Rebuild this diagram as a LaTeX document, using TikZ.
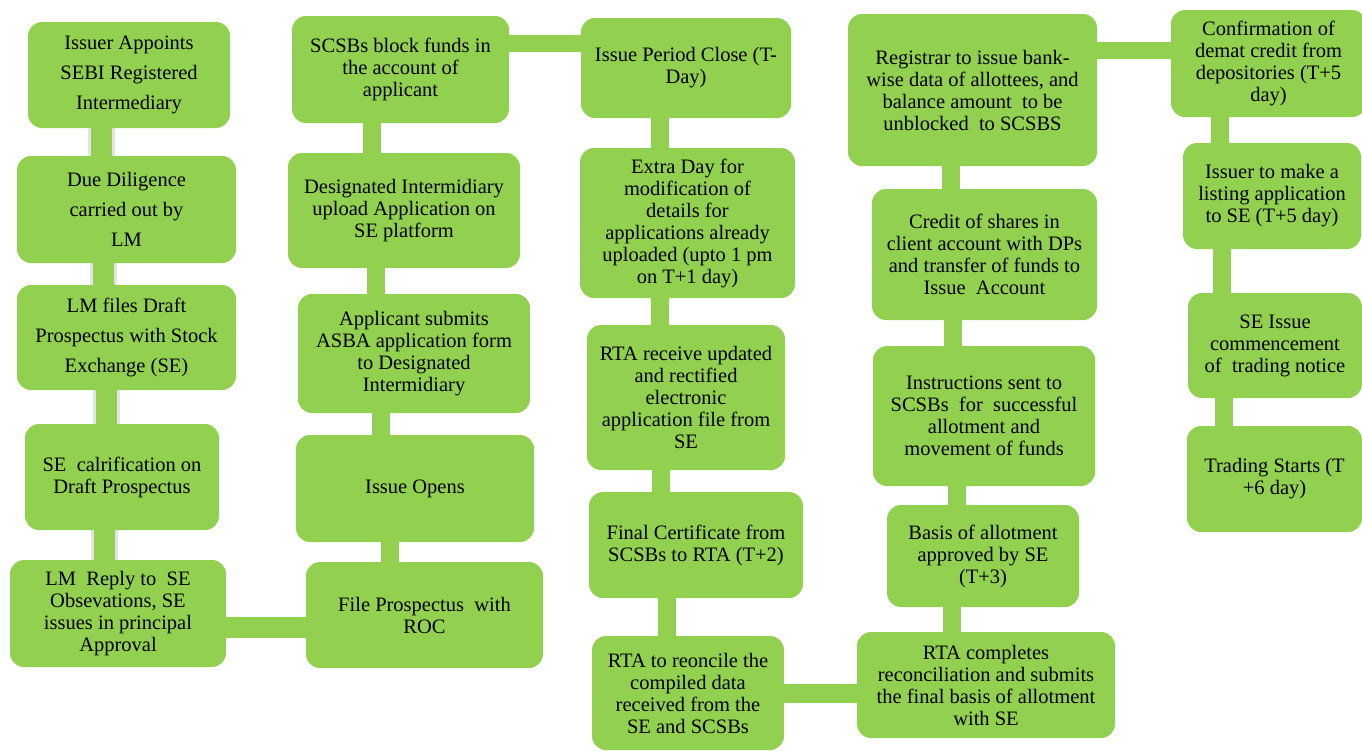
\documentclass[tikz,border=0pt]{standalone}
\usepackage{fontspec}
\setmainfont{Liberation Serif}
\usetikzlibrary{backgrounds}

\definecolor{leaf}{HTML}{92D050}

\begin{document}
\begin{tikzpicture}[
        x=1pt, y=-1pt,
        box/.style={
            fill=leaf,
            rounded corners=14pt,
            align=center,
            inner sep=0pt,
            font=\rmfamily\fontsize{20.5}{22}\selectfont,
        },
        widelines/.style={
            font=\rmfamily\fontsize{20.5}{30}\selectfont,
        },
        bar/.style={
            draw=leaf,
            line width=18pt,
        },
        bar-shadow/.style={
            draw=black!30,
            line width=27pt,
            opacity=0.35,
        },
    ]
    \useasboundingbox (0,0) rectangle (1362,750);

    % Column one.
    \node[box, widelines, minimum width=202, minimum height=106] (n1) at (129,75)
        {Issuer Appoints\\SEBI Registered\\Intermediary};
    \node[box, widelines, minimum width=219, minimum height=107] (n2) at (126.5,209.5)
        {Due Diligence\\carried out by\\LM};
    \node[box, widelines, minimum width=219, minimum height=105] (n3) at (126.5,337.5)
        {LM files Draft\\Prospectus with Stock\\Exchange (SE)};
    \node[box, minimum width=194, minimum height=106] (n4) at (122,477)
        {SE\ \ calrification on\\Draft Prospectus};
    \node[box, minimum width=216, minimum height=107] (n5) at (118,613.5)
        {LM\ \ Reply to\ \ SE\\Obsevations, SE\\issues in principal\\Approval};

    % Column two.
    \node[box, minimum width=237, minimum height=106] (n6) at (424.5,615)
        {File Prospectus\ \ with\\ROC};
    \node[box, minimum width=238, minimum height=107] (n7) at (415,488.5)
        {Issue Opens};
    \node[box, minimum width=232, minimum height=119] (n8) at (414,353.5)
        {Applicant submits\\ASBA application form\\to Designated\\Intermidiary};
    \node[box, minimum width=232, minimum height=115] (n9) at (404,210.5)
        {Designated Intermidiary\\upload Application on\\SE platform};
    \node[box, minimum width=217, minimum height=107] (n10) at (400.5,69.5)
        {SCSBs block funds in\\the account of\\applicant};

    % Column three.
    \node[box, minimum width=210, minimum height=100] (n11) at (686,68)
        {Issue Period Close (T-\\Day)};
    \node[box, minimum width=215, minimum height=150] (n12) at (687.5,223)
        {Extra Day for\\modification of\\details for\\applications already\\uploaded (upto 1 pm\\on T+1 day)};
    \node[box, minimum width=198, minimum height=145] (n13) at (686,397.5)
        {RTA receive updated\\and rectified\\electronic\\application file from\\SE};
    \node[box, minimum width=214, minimum height=106] (n14) at (696,545)
        {Final Certificate from\\SCSBs to RTA (T+2)};
    \node[box, minimum width=192, minimum height=114] (n15) at (688,693)
        {RTA to reoncile the\\compiled data\\received from the\\SE and SCSBs};

    % Column four.
    \node[box, minimum width=258, minimum height=106] (n16) at (986,685)
        {RTA completes\\reconciliation and submits\\the final basis of allotment\\with SE};
    \node[box, minimum width=192, minimum height=102] (n17) at (983,556)
        {Basis of allotment\\approved by SE\\(T+3)};
    \node[box, minimum width=222, minimum height=140] (n18) at (984,416)
        {Instructions sent to\\SCSBs\ \ for\ \ successful\\allotment and\\movement of funds};
    \node[box, minimum width=225, minimum height=131] (n19) at (984.5,254.5)
        {Credit of shares in\\client account with DPs\\and transfer of funds to\\Issue\ \ Account};
    \node[box, minimum width=249, minimum height=152] (n20) at (972.5,90)
        {Registrar to issue bank-\\wise data of allottees, and\\balance amount\ \ to be\\unblocked\ \ to SCSBS};

    % Column five.
    \node[box, minimum width=195, minimum height=107] (n21) at (1268.5,63.5)
        {Confirmation of\\demat credit from\\depositories (T+5\\day)};
    \node[box, minimum width=178, minimum height=106] (n22) at (1272,196)
        {Issuer to make a\\listing application\\to SE (T+5 day)};
    \node[box, minimum width=174, minimum height=105] (n23) at (1275,345.5)
        {SE Issue\\commencement\\of\ \ trading notice};
    \node[box, minimum width=175, minimum height=106] (n24) at (1274.5,479)
        {Trading Starts (T\\+6 day)};

    \begin{scope}[on background layer]
        % Shadowed bars of column one.
        \foreach \a/\b/\x in {n1/n2/101, n2/n3/103, n3/n4/106, n4/n5/104} {
            \draw[bar-shadow] (\a -| \x,0) -- (\b -| \x,0);
            \draw[bar, line width=21pt] (\a -| \x,0) -- (\b -| \x,0);
        }

        % Vertical bars.
        \foreach \a/\b/\x in {n6/n7/390, n7/n8/381, n8/n9/376, n9/n10/372,
                              n11/n12/660, n12/n13/660, n13/n14/661, n14/n15/667,
                              n16/n17/952, n17/n18/957, n18/n19/953, n19/n20/951,
                              n21/n22/1220, n22/n23/1222, n23/n24/1224}
        \draw[bar] (\a -| \x,0) -- (\b -| \x,0);

        % Horizontal bars.
        \draw[bar, line width=21pt] (n5 |- 0,627) -- (n6 |- 0,627);
        \draw[bar, line width=17pt] (n10 |- 0,43) -- (n11 |- 0,43);
        \draw[bar, line width=19pt] (n15 |- 0,693) -- (n16 |- 0,693);
        \draw[bar, line width=17pt] (n20 |- 0,50) -- (n21 |- 0,50);
    \end{scope}
\end{tikzpicture}
\end{document}
